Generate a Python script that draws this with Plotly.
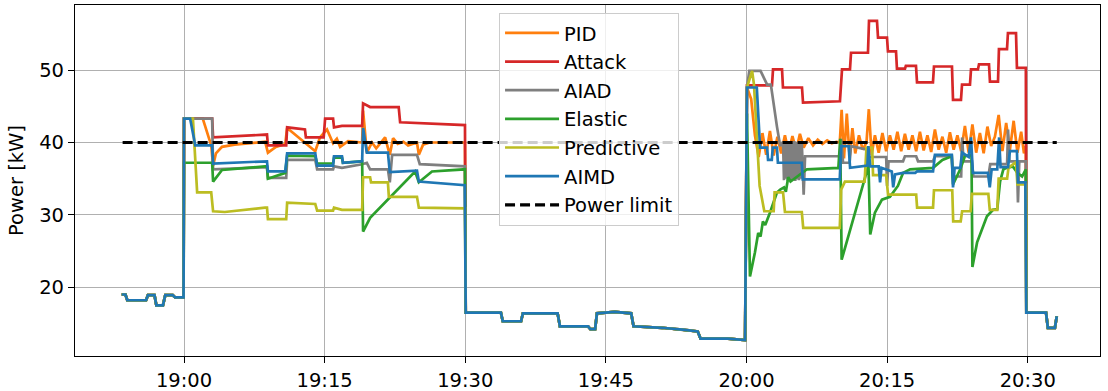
import pandas as pd
import plotly.graph_objects as go

# ---- data: time in minutes after 19:00, power in kW ----
# shared segments (all controllers identical)
pre_t = [-6.65, -6.25, -6.05, -4.05, -3.85, -3.15, -2.95, -2.25, -2.0, -1.2, -0.95, -0.05]
pre_v = [19.0, 19.0, 18.2, 18.2, 18.9, 18.9, 17.5, 17.5, 18.9, 18.9, 18.6, 18.6]
mid_t = [30.05, 33.8, 34.0, 35.95, 36.15, 39.85, 40.1, 43.1, 43.35, 43.85, 44.05, 45.95, 47.7, 47.95,
         51.0, 53.45, 54.8, 55.1, 58.0, 59.85]
mid_v = [16.5, 16.5, 15.3, 15.3, 16.4, 16.4, 14.6, 14.6, 14.2, 14.2, 16.4, 16.6, 16.4, 14.6,
         14.4, 14.1, 13.9, 12.9, 12.9, 12.7]
post_t = [89.85, 91.95, 92.15, 92.9, 93.1]
post_v = [16.5, 16.5, 14.4, 14.4, 16.0]

# PID
pid_t1 = [0.0, 2.0, 2.9, 3.1, 3.4, 4.05, 5.4, 7.0, 8.65, 8.95, 9.8, 10.8, 11.0, 14.0, 14.5, 15.25, 15.9, 16.3,
          16.65, 17.5, 19.0, 19.1, 19.5, 20.05, 20.5, 21.45, 21.95, 22.3, 22.8, 23.4, 23.9, 24.85, 25.05, 25.5,
          26.2, 29.97]
pid_v1 = [43.3, 43.3, 39.6, 36.8, 38.5, 39.4, 39.7, 39.9, 40.1, 38.6, 39.4, 39.8, 42.0, 38.8, 40.7, 41.8, 39.9, 40.5,
          39.4, 40.2, 40.0, 44.4, 38.6, 40.0, 39.2, 40.7, 38.3, 40.6, 39.8, 40.1, 39.6, 40.0, 38.3, 39.7,
          40.0, 40.0]
pid_t2 = [60.05, 60.5, 60.9, 61.3, 61.7, 62.1, 62.5, 62.9, 63.3, 63.7, 64.1, 64.5, 64.9, 65.3, 65.7, 66.1, 66.6,
          67.1, 67.6, 68.1, 68.6, 69.1, 69.6, 69.95, 70.15, 70.4, 70.7, 71.0, 71.3, 71.6, 72.0, 72.4, 72.8, 73.05,
          73.35, 73.7, 74.1, 74.5, 74.9, 75.3, 75.7, 76.1, 76.5, 76.9, 77.3, 77.7, 78.1, 78.5, 78.9, 79.3, 79.7,
          80.1, 80.5, 80.9, 81.3, 81.7, 82.1, 82.5, 82.9, 83.3, 83.7, 84.1, 84.5, 84.9, 85.3, 85.7, 86.1, 86.5,
          86.9, 87.3, 87.7, 88.1, 88.5, 88.9, 89.3, 89.6, 89.8]
pid_v2 = [47.6, 46.0, 41.0, 38.0, 41.3, 38.3, 41.6, 38.2, 40.8, 38.5, 41.0, 38.6, 40.9, 38.9, 41.2, 39.3, 40.6,
          39.6, 40.4, 39.8, 40.3, 39.9, 40.1, 40.0, 44.5, 37.8, 44.0, 38.0, 42.0, 38.5, 41.0, 39.0, 40.0, 44.6,
          38.3, 41.0, 38.6, 41.3, 38.8, 41.0, 39.0, 41.5, 38.8, 41.2, 39.0, 41.0, 38.8, 41.5, 38.9, 41.0, 38.7,
          41.8, 39.0, 40.8, 38.6, 41.4, 39.0, 41.0, 38.8, 42.3, 38.6, 42.5, 38.6, 41.3, 38.5, 42.2, 39.5, 40.8,
          43.8, 38.8, 42.7, 39.0, 43.0, 38.6, 41.5, 38.5, 39.5]

# Attack
atk_t1 = [0.0, 3.0, 3.1, 8.1, 8.85, 8.95, 10.9, 11.0, 12.9, 13.0, 14.9, 15.05, 15.9, 16.0, 16.85, 19.0, 19.1,
          19.85, 22.9, 23.05, 29.97]
atk_v1 = [43.3, 43.3, 40.7, 41.1, 41.1, 39.6, 39.6, 42.1, 41.8, 40.7, 40.7, 43.3, 43.3, 42.1, 42.3, 42.3, 45.4,
          44.9, 44.9, 42.8, 42.4]
atk_t2 = [60.05, 62.72, 62.83, 63.79, 63.89, 65.92, 66.03, 69.97, 70.19, 71.04, 71.15, 72.96, 73.07, 73.92,
          74.03, 74.99, 75.09, 75.95, 76.05, 76.91, 77.0, 78.08, 78.19, 79.89, 80.0, 81.92, 82.03, 82.88, 82.99,
          83.84, 83.95, 84.69, 84.8, 85.87, 85.97, 86.83, 86.93, 87.79, 87.89, 88.75, 88.85, 89.8]
atk_v2 = [47.9, 47.9, 50.1, 50.1, 47.6, 47.6, 45.5, 45.7, 50.1, 50.1, 52.4, 52.4, 56.8, 56.8,
          54.5, 54.5, 52.6, 52.6, 50.2, 50.2, 50.6, 50.6, 48.3, 48.3, 50.5, 50.5, 45.9, 45.9, 48.0,
          48.0, 50.1, 50.1, 50.8, 50.8, 48.4, 48.4, 52.9, 52.9, 55.1, 55.1, 50.3, 50.3]

# AIAD
aiad_t1 = [0.0, 3.0, 3.1, 8.1, 8.85, 8.95, 10.9, 11.0, 14.0, 14.2, 15.9, 16.0, 16.85, 19.0, 19.5, 19.85, 21.75,
           21.95, 22.2, 24.85, 25.15, 29.97]
aiad_v1 = [43.3, 43.3, 36.3, 36.6, 36.6, 35.1, 35.1, 37.6, 37.6, 36.3, 36.3, 36.7, 36.5, 37.0, 37.2, 36.3, 36.3,
           34.5, 38.3, 38.3, 37.0, 36.7]
aiad_t2 = [60.05, 60.3, 61.5, 62.2, 62.6, 63.25, 63.6,
           63.9, 64.0, 64.1, 64.2, 64.3, 64.4, 64.5, 64.6, 64.7, 64.8, 64.9, 65.0, 65.1, 65.2, 65.3, 65.4,
           65.5, 65.6, 65.7, 65.8, 65.9, 66.0,
           66.1, 66.25, 69.95, 70.1, 70.3, 71.0, 71.15, 72.9, 73.1, 74.9, 75.0, 75.15, 76.7, 76.9, 78.1, 78.3,
           79.9, 80.1, 81.9, 82.03, 82.9, 83.0, 83.15, 84.05, 84.2, 85.8, 86.0, 87.8, 87.9, 88.05, 88.85, 88.96,
           89.1, 89.8]
aiad_v2 = [47.6, 49.9, 49.9, 48.0, 48.0, 42.2, 39.5,
           40.1, 34.8, 40.0, 35.0, 40.2, 34.7, 40.0, 34.9, 40.1, 34.8, 40.0, 35.0, 40.2, 34.7, 40.1, 34.9,
           40.0, 34.8, 40.1, 35.0, 40.0, 34.8,
           32.8, 38.1, 38.1, 40.5, 37.2, 37.2, 39.5, 39.0, 38.0, 38.0, 34.0, 37.4, 37.4, 38.1, 38.1, 37.4,
           37.4, 38.1, 38.1, 35.3, 35.3, 40.7, 37.4, 37.4, 35.3, 35.3, 37.0, 37.0, 41.8, 37.4, 37.4, 31.7,
           37.4, 37.4]

# Elastic
ela_t1 = [0.0, 3.0, 3.1, 4.05, 8.65, 8.85, 8.95, 10.8, 11.0, 14.0, 14.2, 15.9, 16.0, 16.85, 16.95, 19.0, 19.1,
          19.85, 24.65, 25.05, 26.45, 29.97]
ela_v1 = [37.2, 37.2, 34.6, 36.2, 36.7, 36.7, 35.0, 35.8, 38.2, 38.1, 37.1, 37.1, 37.9, 37.9, 37.2, 37.4, 27.7,
          29.6, 36.0, 34.5, 36.0, 36.3]
ela_t2 = [60.05, 60.37, 60.9, 61.25, 61.5, 61.75, 62.0, 62.5, 63.25, 63.6, 64.0, 64.2, 64.45, 64.7, 66.45, 69.8,
          70.0, 70.15, 72.9, 73.0, 73.2, 73.7, 74.45, 75.3, 76.15, 76.7, 77.45, 79.9, 80.9, 81.9, 82.03, 82.8,
          83.3, 84.0, 84.1, 84.6, 85.2, 85.65, 86.3, 86.75, 87.05, 87.4, 87.8, 88.4, 88.9, 89.4, 89.8]
ela_v2 = [44.0, 21.5, 24.8, 27.5, 27.0, 29.1, 28.6, 30.3, 33.1, 33.5, 33.8, 33.2, 35.2, 34.6, 36.3, 36.5,
          40.5, 23.8, 36.3, 37.5, 27.3, 30.3, 32.1, 32.5, 34.0, 35.8, 36.3, 36.5, 37.6, 38.1, 34.2, 36.3,
          38.1, 38.3, 22.8, 26.2, 28.4, 29.8, 30.7, 30.8, 34.6, 36.3, 36.5, 36.7, 35.8, 35.3, 36.3]

# Predictive
pre_d_t1 = [0.0, 0.95, 1.4, 2.9, 3.1, 4.35, 8.65, 8.85, 8.95, 10.9, 11.0, 14.0, 14.2, 15.9, 16.0, 16.85, 19.0,
            19.1, 19.85, 19.95, 21.75, 21.85, 24.85, 25.05, 29.97]
pre_d_v1 = [43.3, 43.3, 33.1, 33.1, 30.5, 30.4, 31.0, 31.0, 29.4, 29.4, 31.7, 31.5, 30.6, 30.6, 31.0, 30.7, 30.7,
            35.2, 35.2, 34.5, 34.5, 32.5, 32.5, 31.0, 30.9]
pre_d_t2 = [60.05, 60.6, 60.8, 61.4, 61.9, 62.9, 63.0, 63.9, 64.1, 65.9, 66.05, 69.95, 70.1, 70.5, 72.6, 72.8,
            73.4, 73.5, 74.9, 75.1, 78.1, 78.2, 79.9, 80.0, 81.95, 82.05, 82.85, 83.0, 83.9, 84.05, 85.8, 85.95,
            86.75, 86.9, 87.8, 87.95, 88.75, 88.9, 89.8]
pre_d_v2 = [47.6, 49.9, 48.0, 34.0, 30.5, 30.5, 33.1, 33.1, 30.4, 30.4, 28.2, 28.2, 33.5, 34.6, 34.6, 39.3,
            39.3, 35.5, 35.5, 32.8, 32.8, 31.0, 31.0, 33.4, 33.4, 29.1, 29.1, 30.5, 30.5, 32.9, 32.9, 30.7,
            30.7, 35.0, 35.0, 36.5, 37.3, 34.2, 34.2]

# AIMD
aimd_t1 = [0.0, 0.65, 1.2, 3.0, 3.1, 8.1, 8.85, 8.95, 10.8, 11.0, 14.0, 14.2, 15.9, 16.0, 16.85, 16.95, 19.0,
           19.1, 19.5, 21.75, 21.95, 24.85, 25.05, 29.95]
aimd_v1 = [43.3, 43.3, 39.6, 39.6, 37.1, 37.4, 37.4, 36.0, 36.0, 38.5, 38.5, 36.8, 36.8, 38.1, 38.1, 37.2, 37.4,
           42.0, 38.6, 38.6, 35.9, 36.1, 34.6, 34.1]
aimd_t2 = [60.05, 61.1, 61.45, 62.2, 62.3, 62.7, 62.8, 63.25, 63.35, 65.9, 66.0, 69.95, 70.1, 70.9, 71.05, 72.9,
           73.0, 73.2, 74.1, 74.25, 74.4, 75.5, 75.65, 75.85, 76.7, 78.0, 78.2, 79.9, 80.1, 81.9, 82.03, 82.2,
           82.8, 83.0, 83.7, 83.95, 84.15, 85.75, 85.95, 86.15, 86.75, 86.95, 87.1, 87.9, 88.1, 88.85, 88.95, 89.75]
aimd_v2 = [47.6, 47.6, 39.3, 39.3, 37.6, 37.6, 39.3, 39.3, 37.2, 37.2, 34.9, 34.9, 39.5, 39.5, 36.5, 36.8,
           39.5, 36.7, 36.7, 34.5, 36.5, 36.0, 33.8, 35.6, 35.8, 35.8, 36.0, 36.0, 38.3, 38.3, 33.8, 36.5,
           36.5, 38.6, 38.0, 40.7, 35.8, 35.8, 33.8, 36.3, 36.3, 40.7, 36.6, 36.6, 38.8, 38.8, 34.5, 34.5]

limit_t = [-6.55, 93.1]
limit_v = [40.0, 40.0]

names = ["PID", "Attack", "AIAD", "Elastic", "Predictive", "AIMD"]
colors = ["#ff7f0e", "#d62728", "#7f7f7f", "#2ca02c", "#bcbd22", "#1f77b4"]
phases = [
    (pid_t1, pid_v1, pid_t2, pid_v2),
    (atk_t1, atk_v1, atk_t2, atk_v2),
    (aiad_t1, aiad_v1, aiad_t2, aiad_v2),
    (ela_t1, ela_v1, ela_t2, ela_v2),
    (pre_d_t1, pre_d_v1, pre_d_t2, pre_d_v2),
    (aimd_t1, aimd_v1, aimd_t2, aimd_v2),
]

base = pd.Timestamp("2024-01-01 19:00:00")


def to_time(mins):
    return [base + pd.Timedelta(minutes=m) for m in mins]


fig = go.Figure()
for name, color, (t1, v1, t2, v2) in zip(names, colors, phases):
    ts = pre_t + t1 + mid_t + t2 + post_t
    vs = pre_v + v1 + mid_v + v2 + post_v
    fig.add_trace(go.Scatter(x=to_time(ts), y=vs, mode="lines", name=name, legendgroup=name,
                             line=dict(color=color, width=2.7)))

fig.add_trace(go.Scatter(x=to_time(limit_t), y=limit_v, mode="lines", name="Power limit",
                         legendgroup="limit", line=dict(color="black", width=3.2, dash="10px,5px")))

tick_mins = [0, 15, 30, 45, 60, 75, 90]
font = "DejaVu Sans, Arial, sans-serif"
fs = 19.5
fig.update_layout(
    width=1108, height=391,
    margin=dict(l=75, r=8, t=5, b=35),
    paper_bgcolor="white", plot_bgcolor="white",
    font=dict(family=font, size=fs, color="black"),
    showlegend=True,
    legend=dict(x=0.4137, y=0.978, xanchor="left", yanchor="top",
                bgcolor="rgba(255,255,255,0.8)", bordercolor="#cccccc", borderwidth=1,
                font=dict(size=fs), tracegroupgap=0.3, itemwidth=54),
    xaxis=dict(range=[base + pd.Timedelta(minutes=-11.63), base + pd.Timedelta(minutes=97.71)],
               tickvals=to_time(tick_mins), tickformat="%H:%M", automargin=False,
               showgrid=True, gridcolor="#b0b0b0", gridwidth=1,
               showline=True, linecolor="black", linewidth=1.2, mirror=True,
               ticks="outside", ticklen=6, tickcolor="black", zeroline=False),
    yaxis=dict(range=[10.5, 59.0], tickvals=[20, 30, 40, 50], automargin=False,
               showgrid=True, gridcolor="#b0b0b0", gridwidth=1,
               showline=True, linecolor="black", linewidth=1.2, mirror=True,
               ticks="outside", ticklen=6, tickcolor="black", zeroline=False,
               title=dict(text="Power [kW]", font=dict(size=fs), standoff=10)),
)

fig.write_html("out.html", config={"displayModeBar": False},
               post_script="document.body.style.margin='0';")
